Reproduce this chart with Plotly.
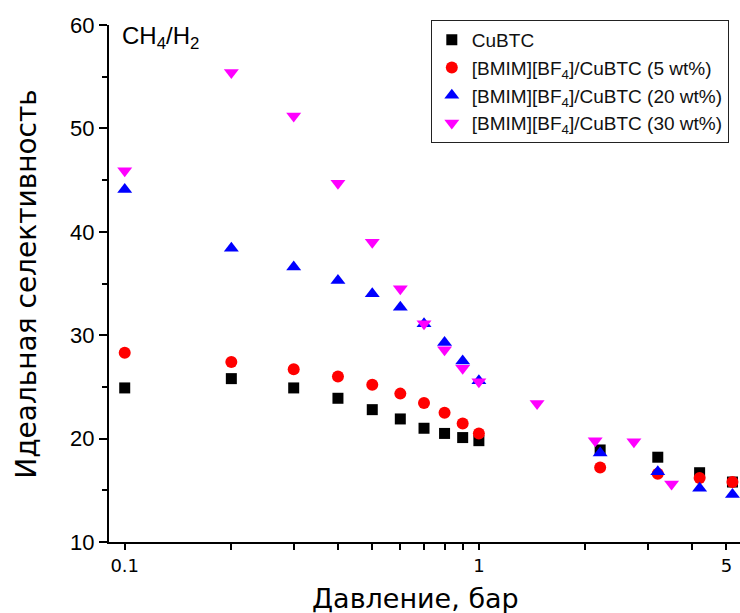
import plotly.graph_objects as go

# ---- data ----
x_low = [0.1, 0.2, 0.3, 0.4, 0.5, 0.6, 0.7, 0.8, 0.9, 1.0]
x_high = [2.2, 3.2, 4.2, 5.2]
x_30_high = [1.46, 2.13, 2.74, 3.5]

cubtc_y = [24.9, 25.8, 24.9, 23.9, 22.8, 21.9, 21.0, 20.5, 20.1, 19.8,
           18.9, 18.2, 16.7, 15.8]
il5_y = [28.3, 27.4, 26.7, 26.0, 25.2, 24.35, 23.45, 22.5, 21.45, 20.5,
         17.2, 16.6, 16.2, 15.8]
il20_y = [44.1, 38.4, 36.6, 35.3, 34.0, 32.7, 31.1, 29.3, 27.5, 25.6,
          18.6, 16.8, 15.2, 14.6]
il30_y = [45.9, 55.4, 51.2, 44.7, 39.0, 34.5, 31.1, 28.6, 26.8, 25.5,
          23.4, 19.8, 19.7, 15.6]

names = ["CuBTC",
         "[BMIM][BF<sub>4</sub>]/CuBTC (5 wt%)",
         "[BMIM][BF<sub>4</sub>]/CuBTC (20 wt%)",
         "[BMIM][BF<sub>4</sub>]/CuBTC (30 wt%)"]

x_tickvals = [0.1, 1, 5]
x_ticktext = ["0.1", "1", "5"]
x_minor_vals = [0.2, 0.3, 0.4, 0.5, 0.6, 0.7, 0.8, 0.9, 2, 3, 4]

fig = go.Figure()
fig.add_trace(go.Scatter(x=x_low + x_high, y=cubtc_y, mode="markers", name=names[0],
                         marker=dict(symbol="square", size=11, color="#000000")))
fig.add_trace(go.Scatter(x=x_low + x_high, y=il5_y, mode="markers", name=names[1],
                         marker=dict(symbol="circle", size=12, color="#ff0000")))
fig.add_trace(go.Scatter(x=x_low + x_high, y=il20_y, mode="markers", name=names[2],
                         marker=dict(symbol="triangle-up", size=13, color="#0000ff")))
fig.add_trace(go.Scatter(x=x_low + x_30_high, y=il30_y, mode="markers", name=names[3],
                         marker=dict(symbol="triangle-down", size=13, color="#ff00ff")))

fig.update_layout(
    width=740, height=613,
    margin=dict(l=109, r=0, t=25, b=71),
    paper_bgcolor="white", plot_bgcolor="white",
    showlegend=True,
    legend=dict(x=0.510, y=1.0097, xanchor="left", yanchor="top",
                bordercolor="#222222", borderwidth=1, bgcolor="white",
                font=dict(family="Liberation Sans, Arial", size=19, color="#111111")),
    xaxis=dict(type="log", range=[-1.0444, 0.7373],
               tickmode="array", tickvals=x_tickvals, ticktext=x_ticktext,
               ticks="outside", ticklen=6, tickwidth=1.5, tickcolor="black",
               minor=dict(tickmode="array", tickvals=x_minor_vals, ticks="outside",
                          ticklen=6, tickwidth=1.5, tickcolor="black", showgrid=False),
               showline=True, linecolor="black", linewidth=2,
               showgrid=False, zeroline=False,
               tickfont=dict(family="DejaVu Sans", size=18, color="black")),
    yaxis=dict(range=[10, 60], dtick=10, tick0=10,
               ticks="outside", ticklen=8, tickwidth=1.5, tickcolor="black",
               minor=dict(dtick=5, ticks="outside", ticklen=5, tickwidth=1.5,
                          tickcolor="black", showgrid=False),
               showline=True, linecolor="black", linewidth=2,
               showgrid=False, zeroline=False,
               tickfont=dict(family="Liberation Sans, Arial", size=22, color="black")),
    annotations=[
        dict(text="Давление, бар", xref="paper", yref="paper",
             x=(416 - 109.3) / 630.7, y=(541.7 - 598) / 516.7,
             xanchor="center", yanchor="middle", showarrow=False,
             font=dict(family="DejaVu Sans", size=27, color="black")),
        dict(text="Идеальная селективность", xref="paper", yref="paper",
             x=(26 - 109.3) / 630.7, y=(541.7 - 284) / 516.7, textangle=-90,
             xanchor="center", yanchor="middle", showarrow=False,
             font=dict(family="DejaVu Sans", size=28, color="black")),
        dict(text="CH<sub>4</sub>/H<sub>2</sub>", xref="paper", yref="paper",
             x=(120 - 109.3) / 630.7, y=(541.7 - 37) / 516.7,
             xanchor="left", yanchor="middle", showarrow=False,
             font=dict(family="Liberation Sans, Arial", size=24, color="black")),
    ],
)

fig.write_html("out.html")
